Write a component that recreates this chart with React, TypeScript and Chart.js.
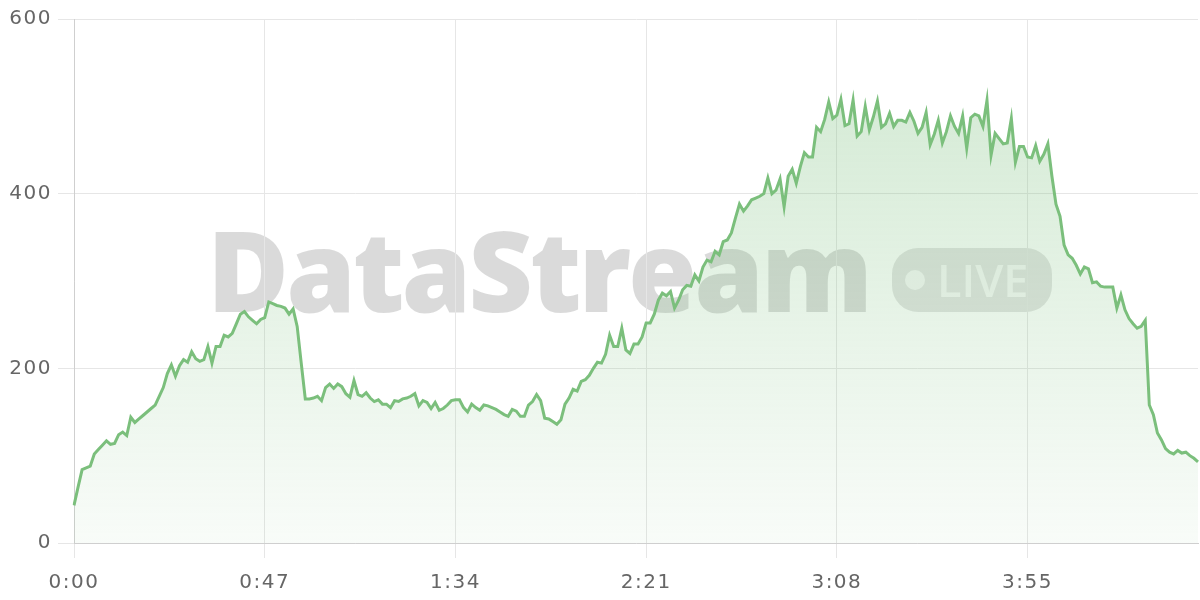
import React, { useEffect, useRef } from "react";
import { Chart, registerables } from "chart.js";

Chart.register(...registerables);

const SECONDS: number[] = Array.from({ length: 278 }, (_, i) => i);
const LABELS: string[] = SECONDS.map(
  (s) => `${Math.floor(s / 60)}:${String(s % 60).padStart(2, "0")}`
);

const VALUES_A: number[] = [
  43, 64, 84, 86, 88, 102, 107, 112, 117, 113, 114, 124, 127, 123, 144, 138, 142, 146, 150, 154,
  158, 168, 178, 194, 204, 191, 203, 210, 207, 219, 211, 208, 210, 225, 206, 225, 225, 238, 236, 240,
  251, 262, 265, 259, 255, 251, 256, 258, 276,
];
const VALUES_B: number[] = [
  274, 272, 271, 269, 262, 268, 248, 206, 165, 165, 166, 168, 163, 178, 182, 177, 182, 179, 171, 167,
  186, 170, 168, 172, 166, 162, 164, 159, 159, 155, 163, 162, 165, 166, 168, 171, 157, 163, 161, 154,
  161, 152, 154, 158, 163, 164, 164,
];
const VALUES_C: number[] = [
  155, 150, 159, 155, 152, 158, 157, 155, 153, 150, 147, 145, 153, 151, 145, 145, 158, 162, 170, 163,
  143, 142, 139, 136, 141, 159, 166, 176, 174, 185, 187, 192, 200, 207, 206, 216, 238, 225, 225, 246,
  221, 217, 228, 228, 236, 252,
];
const VALUES_D: number[] = [
  252, 262, 278, 286, 283, 288, 269, 278, 290, 295, 294, 307, 300, 316, 324, 322, 334, 330, 345, 347,
  355, 372, 388, 380, 386, 393, 395, 397, 400, 418, 400, 404, 417, 385, 420, 428, 412, 431, 447, 442,
  442, 476, 471, 485, 505, 486, 490, 508,
];
const VALUES_E: number[] = [
  478, 480, 507, 466, 471, 500, 473, 488, 506, 476, 480, 492, 477, 484, 484, 482, 493, 483, 469, 476,
  493, 456, 468, 484, 458, 471, 489, 477, 469, 489, 452, 487, 491, 489, 477, 507, 444, 469, 463, 457,
  458, 486, 436, 454, 454, 442, 441, 455, 437, 445, 457,
];
const VALUES_F: number[] = [
  420, 388, 374, 341, 330, 326, 318, 308, 316, 314, 298, 299, 294, 293, 293, 293, 269, 284, 267, 257,
  251, 246, 248, 255, 158, 147, 126, 118, 108, 104, 102, 106, 103, 104, 100, 97, 93,
];
const VALUES: number[] = [
  ...VALUES_A,
  ...VALUES_B,
  ...VALUES_C,
  ...VALUES_D,
  ...VALUES_E,
  ...VALUES_F,
];

const Y_MIN = 0;
const Y_MAX = 600;
const Y_STEP = 200;
const WATERMARK = "DataStream";
const BADGE = "LIVE";

const LINE_COLOR = "#7bbf7c";
const TICK_FONT = "'DejaVu Sans', sans-serif";
const MARK_FONT = "'Open Sans', sans-serif";

const watermarkPlugin = {
  id: "watermark",
  beforeDraw(chart: any) {
    const ctx = chart.ctx as CanvasRenderingContext2D;
    ctx.save();
    ctx.fillStyle = "rgba(0,0,0,0.145)";
    ctx.font = `800 112px ${MARK_FONT}`;
    ctx.textBaseline = "alphabetic";
    ctx.textAlign = "left";
    (ctx as any).letterSpacing = "-3px";
    ctx.fillText(WATERMARK, 207, 312);
    (ctx as any).letterSpacing = "0px";
    // badge
    ctx.fillStyle = "rgba(0,0,0,0.11)";
    ctx.beginPath();
    (ctx as any).roundRect(892, 248, 160, 64, 26);
    ctx.fill();
    ctx.fillStyle = "rgba(255,255,255,0.7)";
    ctx.beginPath();
    ctx.arc(915, 280, 10, 0, Math.PI * 2);
    ctx.fill();
    ctx.font = `600 45px ${MARK_FONT}`;
    ctx.fillText(BADGE, 937, 297);
    ctx.restore();
    // spacing for tick labels
    (ctx as any).letterSpacing = "1.5px";
  },
};

export default function App() {
  const canvasRef = useRef<HTMLCanvasElement | null>(null);

  useEffect(() => {
    if (!canvasRef.current) return;
    const chart = new Chart(canvasRef.current, {
      type: "line",
      data: {
        labels: LABELS,
        datasets: [
          {
            data: VALUES,
            borderColor: LINE_COLOR,
            borderWidth: 3,
            pointRadius: 0,
            tension: 0,
            fill: "origin",
            backgroundColor: (c: any) => {
              const area = c.chart.chartArea;
              if (!area) return "rgba(124,192,126,0.15)";
              const g = c.chart.ctx.createLinearGradient(0, area.top, 0, area.bottom);
              g.addColorStop(0, "rgba(124,192,126,0.36)");
              g.addColorStop(1, "rgba(124,192,126,0.05)");
              return g;
            },
          },
        ],
      },
      options: {
        animation: false,
        responsive: true,
        maintainAspectRatio: false,
        layout: { padding: { top: 19, right: 2, left: 0, bottom: 0 } },
        plugins: { legend: { display: false }, tooltip: { enabled: false } },
        scales: {
          x: {
            type: "category",
            afterFit: (s: any) => {
              s.height = 57;
            },
            grid: { color: "#e6e6e6", tickLength: 15, drawTicks: true },
            border: { color: "#cfcfcf", width: 1 },
            ticks: {
              autoSkip: true,
              maxTicksLimit: 6,
              maxRotation: 0,
              minRotation: 0,
              color: "#666",
              padding: 13,
              font: { size: 20, family: TICK_FONT },
            },
          },
          y: {
            min: Y_MIN,
            max: Y_MAX,
            afterFit: (s: any) => {
              s.width = 74;
            },
            grid: { color: "#e6e6e6", tickLength: 16 },
            border: { color: "#cfcfcf", width: 1 },
            ticks: {
              stepSize: Y_STEP,
              color: "#666",
              padding: 6,
              font: { size: 20, family: TICK_FONT },
            },
          },
        },
      },
      plugins: [watermarkPlugin],
    });
    return () => chart.destroy();
  }, []);

  return (
    <div style={{ position: "absolute", left: 0, top: 0, width: 1200, height: 600, background: "#fff" }}>
      <canvas ref={canvasRef} />
    </div>
  );
}
